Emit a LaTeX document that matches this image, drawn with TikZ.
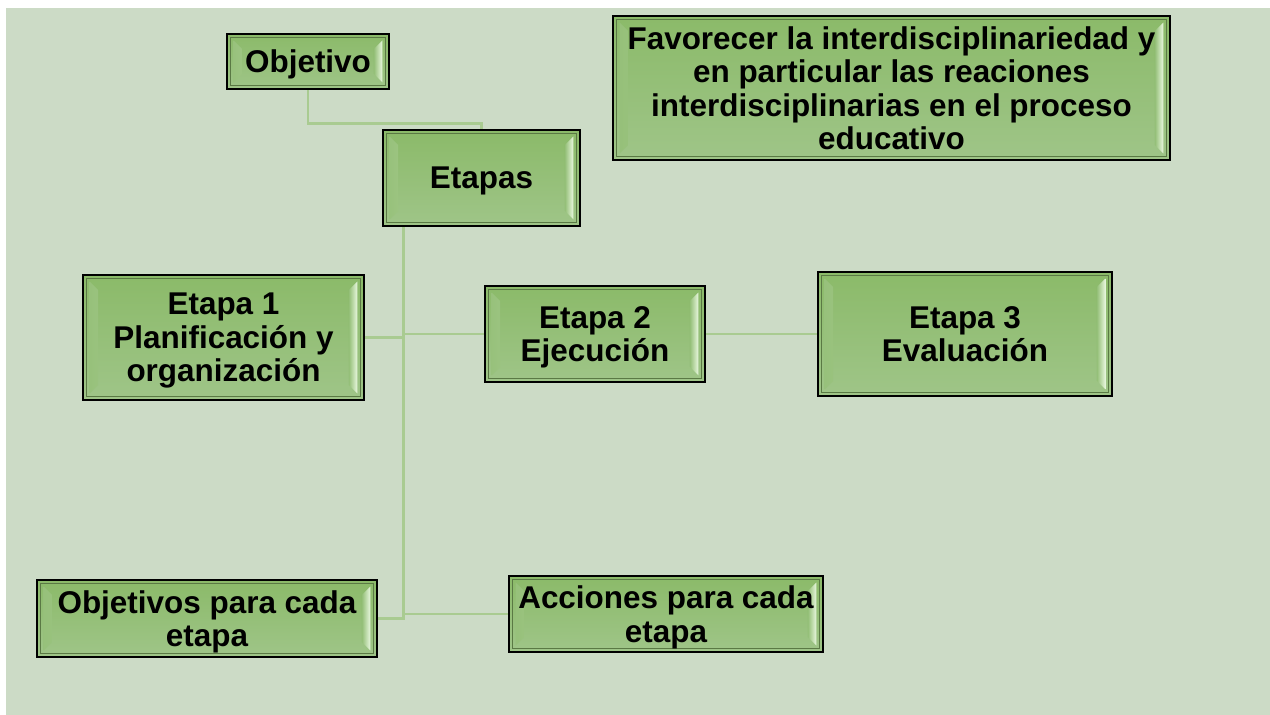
\documentclass[tikz,border=0pt]{standalone}
\usepackage{fontspec}
\setmainfont{Liberation Sans}
\definecolor{sheet}{HTML}{CCDBC6}
\definecolor{boxtop}{HTML}{8BBA69}
\definecolor{boxbot}{HTML}{9FC588}
\definecolor{bevel}{HTML}{EAF8E0}
\definecolor{wire}{HTML}{A9CB91}
\newcommand{\boxbevel}{%
  \shade[left color=boxtop!50!boxbot,right color=bevel]
    ([shift={(0.13cm,0.13cm)}]path picture bounding box.south west)
    -- ([shift={(0.13cm,-0.13cm)}]path picture bounding box.north west)
    -- ([shift={(0.30cm,-0.30cm)}]path picture bounding box.north west)
    -- ([shift={(0.30cm,0.30cm)}]path picture bounding box.south west) -- cycle;
  \shade[left color=boxtop!50!boxbot,right color=bevel]
    ([shift={(-0.13cm,0.13cm)}]path picture bounding box.south east)
    -- ([shift={(-0.13cm,-0.13cm)}]path picture bounding box.north east)
    -- ([shift={(-0.30cm,-0.30cm)}]path picture bounding box.north east)
    -- ([shift={(-0.30cm,0.30cm)}]path picture bounding box.south east) -- cycle;
  \draw[black!35!boxtop,line width=0.4pt]
    ([shift={(0.07cm,0.07cm)}]path picture bounding box.south west)
    rectangle ([shift={(-0.07cm,-0.07cm)}]path picture bounding box.north east);
}

\begin{document}
\begin{tikzpicture}[x=0.02cm,y=-0.02cm,
    stage/.style={draw=black,line width=1.2pt,top color=boxtop,bottom color=boxbot,
      path picture={\boxbevel},align=center,inner sep=0pt,text depth=0pt,
      font=\fontsize{17.9pt}{19pt}\selectfont\bfseries},
    wireline/.style={draw=wire,line width=1.7pt}]
  \useasboundingbox (0,0) rectangle (1270,715);
  \fill[white] (0,0) rectangle (1270,715);
  \fill[sheet] (6,8) rectangle (1270,715);

  \node[stage,minimum width=3.24cm,minimum height=1.1cm] (obj) at (308,61.5) {Objetivo};
  \node[stage,minimum width=3.94cm,minimum height=1.92cm] (etapas) at (481.5,178) {Etapas};
  \node[stage,minimum width=11.14cm,minimum height=2.88cm] (fav) at (891.5,88)
    {Favorecer la interdisciplinariedad y\\en particular las reaciones\\interdisciplinarias en el proceso\\educativo};
  \node[stage,minimum width=5.62cm,minimum height=2.5cm] (e1) at (223.5,337.5)
    {Etapa 1\\Planificación y\\organización};
  \node[stage,minimum width=4.4cm,minimum height=1.92cm] (e2) at (595,334) {Etapa 2\\Ejecución};
  \node[stage,minimum width=5.88cm,minimum height=2.48cm] (e3) at (965,334) {Etapa 3\\Evaluación};
  \node[stage,minimum width=6.8cm,minimum height=1.54cm] (objc) at (207,618.5)
    {Objetivos para cada\\etapa};
  \node[stage,minimum width=6.28cm,minimum height=1.52cm] (acc) at (666,614)
    {Acciones para cada\\etapa};

  \coordinate (trunk) at ([xshift=0.44cm]etapas.south west);
  \draw[wireline] (obj.south) |- ([yshift=0.1cm]etapas.north) -- (etapas.north);
  \draw[wireline] (trunk) -- (trunk |- objc.east) -- (objc.east);
  \draw[wireline] (trunk |- acc.west) -- (acc.west);
  \draw[wireline] (e1.east) -- (trunk |- e1.east);
  \draw[wireline] (trunk |- e2.west) -- (e2.west);
  \draw[wireline] (e2.east) -- (e3.west);
\end{tikzpicture}
\end{document}
